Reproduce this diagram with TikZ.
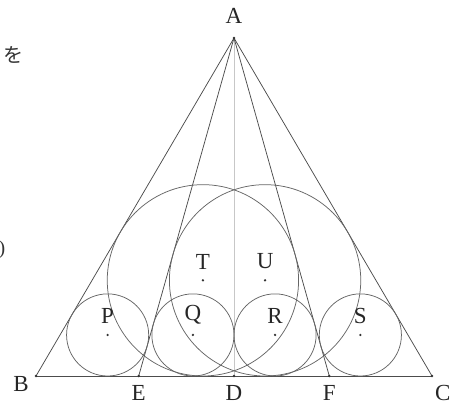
\documentclass[tikz,border=0pt]{standalone}
\usepackage{fontspec}
\setmainfont{Liberation Serif}
\newfontfamily\jpfont{Noto Sans CJK JP}
\usetikzlibrary{positioning}

\begin{document}
\begin{tikzpicture}[x=1pt, y=1pt,
    edge/.style={draw=black!70, line width=0.75pt},
    midline/.style={draw=black!22, line width=0.5pt},
    circ/.style={draw=black!60, line width=0.75pt},
    lbl/.style={font=\fontsize{23}{23}\selectfont, inner sep=0pt, text=black!85},
    stray/.style={font=\fontsize{20}{20}\selectfont, inner sep=0pt, text=black!80}
]
\useasboundingbox (0,0) rectangle (461,405);

%% ── Triangle and points on BC (D is the foot of the altitude) ────────
\coordinate (A) at (234,367);
\coordinate (B) at ( 36, 29);
\coordinate (C) at (432, 29);
\coordinate (D) at (234, 29);
\coordinate (E) at (138.71,29);
\coordinate (F) at (329.29,29);

%% ── Incentres: P,Q,R,S (r = 41.06), T,U (r = 95.67) ──────────────────
\coordinate (P) at (107.63, 70.06);
\coordinate (Q) at (192.94, 70.06);
\coordinate (R) at (275.06, 70.06);
\coordinate (S) at (360.37, 70.06);
\coordinate (T) at (202.92,124.67);
\coordinate (U) at (265.08,124.67);

%% ── Lines ────────────────────────────────────────────────────────────
\draw[midline] (A) -- (D);
\draw[edge] (B) -- (A) -- (C);
\draw[edge] (B) -- (C);
\draw[edge] (A) -- (E);
\draw[edge] (A) -- (F);

%% ── Circles ──────────────────────────────────────────────────────────
\foreach \c in {P,Q,R,S}
  \draw[circ] (\c) circle (41.06);
\foreach \c in {T,U}
  \draw[circ] (\c) circle (95.67);

%% ── Dots ─────────────────────────────────────────────────────────────
\foreach \p in {A,B,C,D,E,F,P,Q,R,S,T,U}
  \fill[black!80] (\p) circle (1.3);

%% ── Labels ───────────────────────────────────────────────────────────
\node[lbl, above=14pt of A] (labA) {A};
\node[lbl, below left=0pt and 7pt of B] (labB) {B};
\node[lbl, below=9pt of E] (labE) {E};
\node[lbl, below=9pt of D] (labD) {D};
\node[lbl, below=9pt of F] (labF) {F};
\node[lbl, below right=9pt and 3pt of C] (labC) {C};
\foreach \c in {P,Q,R,S,T,U}
  \node[lbl, above=11pt of \c] (lab\c) {\c};

%% stray text from the page edge
\node[stray] (wo) at (14,350) {\jpfont を};
\node[stray] (paren) at (2,155) {)};

\end{tikzpicture}
\end{document}
